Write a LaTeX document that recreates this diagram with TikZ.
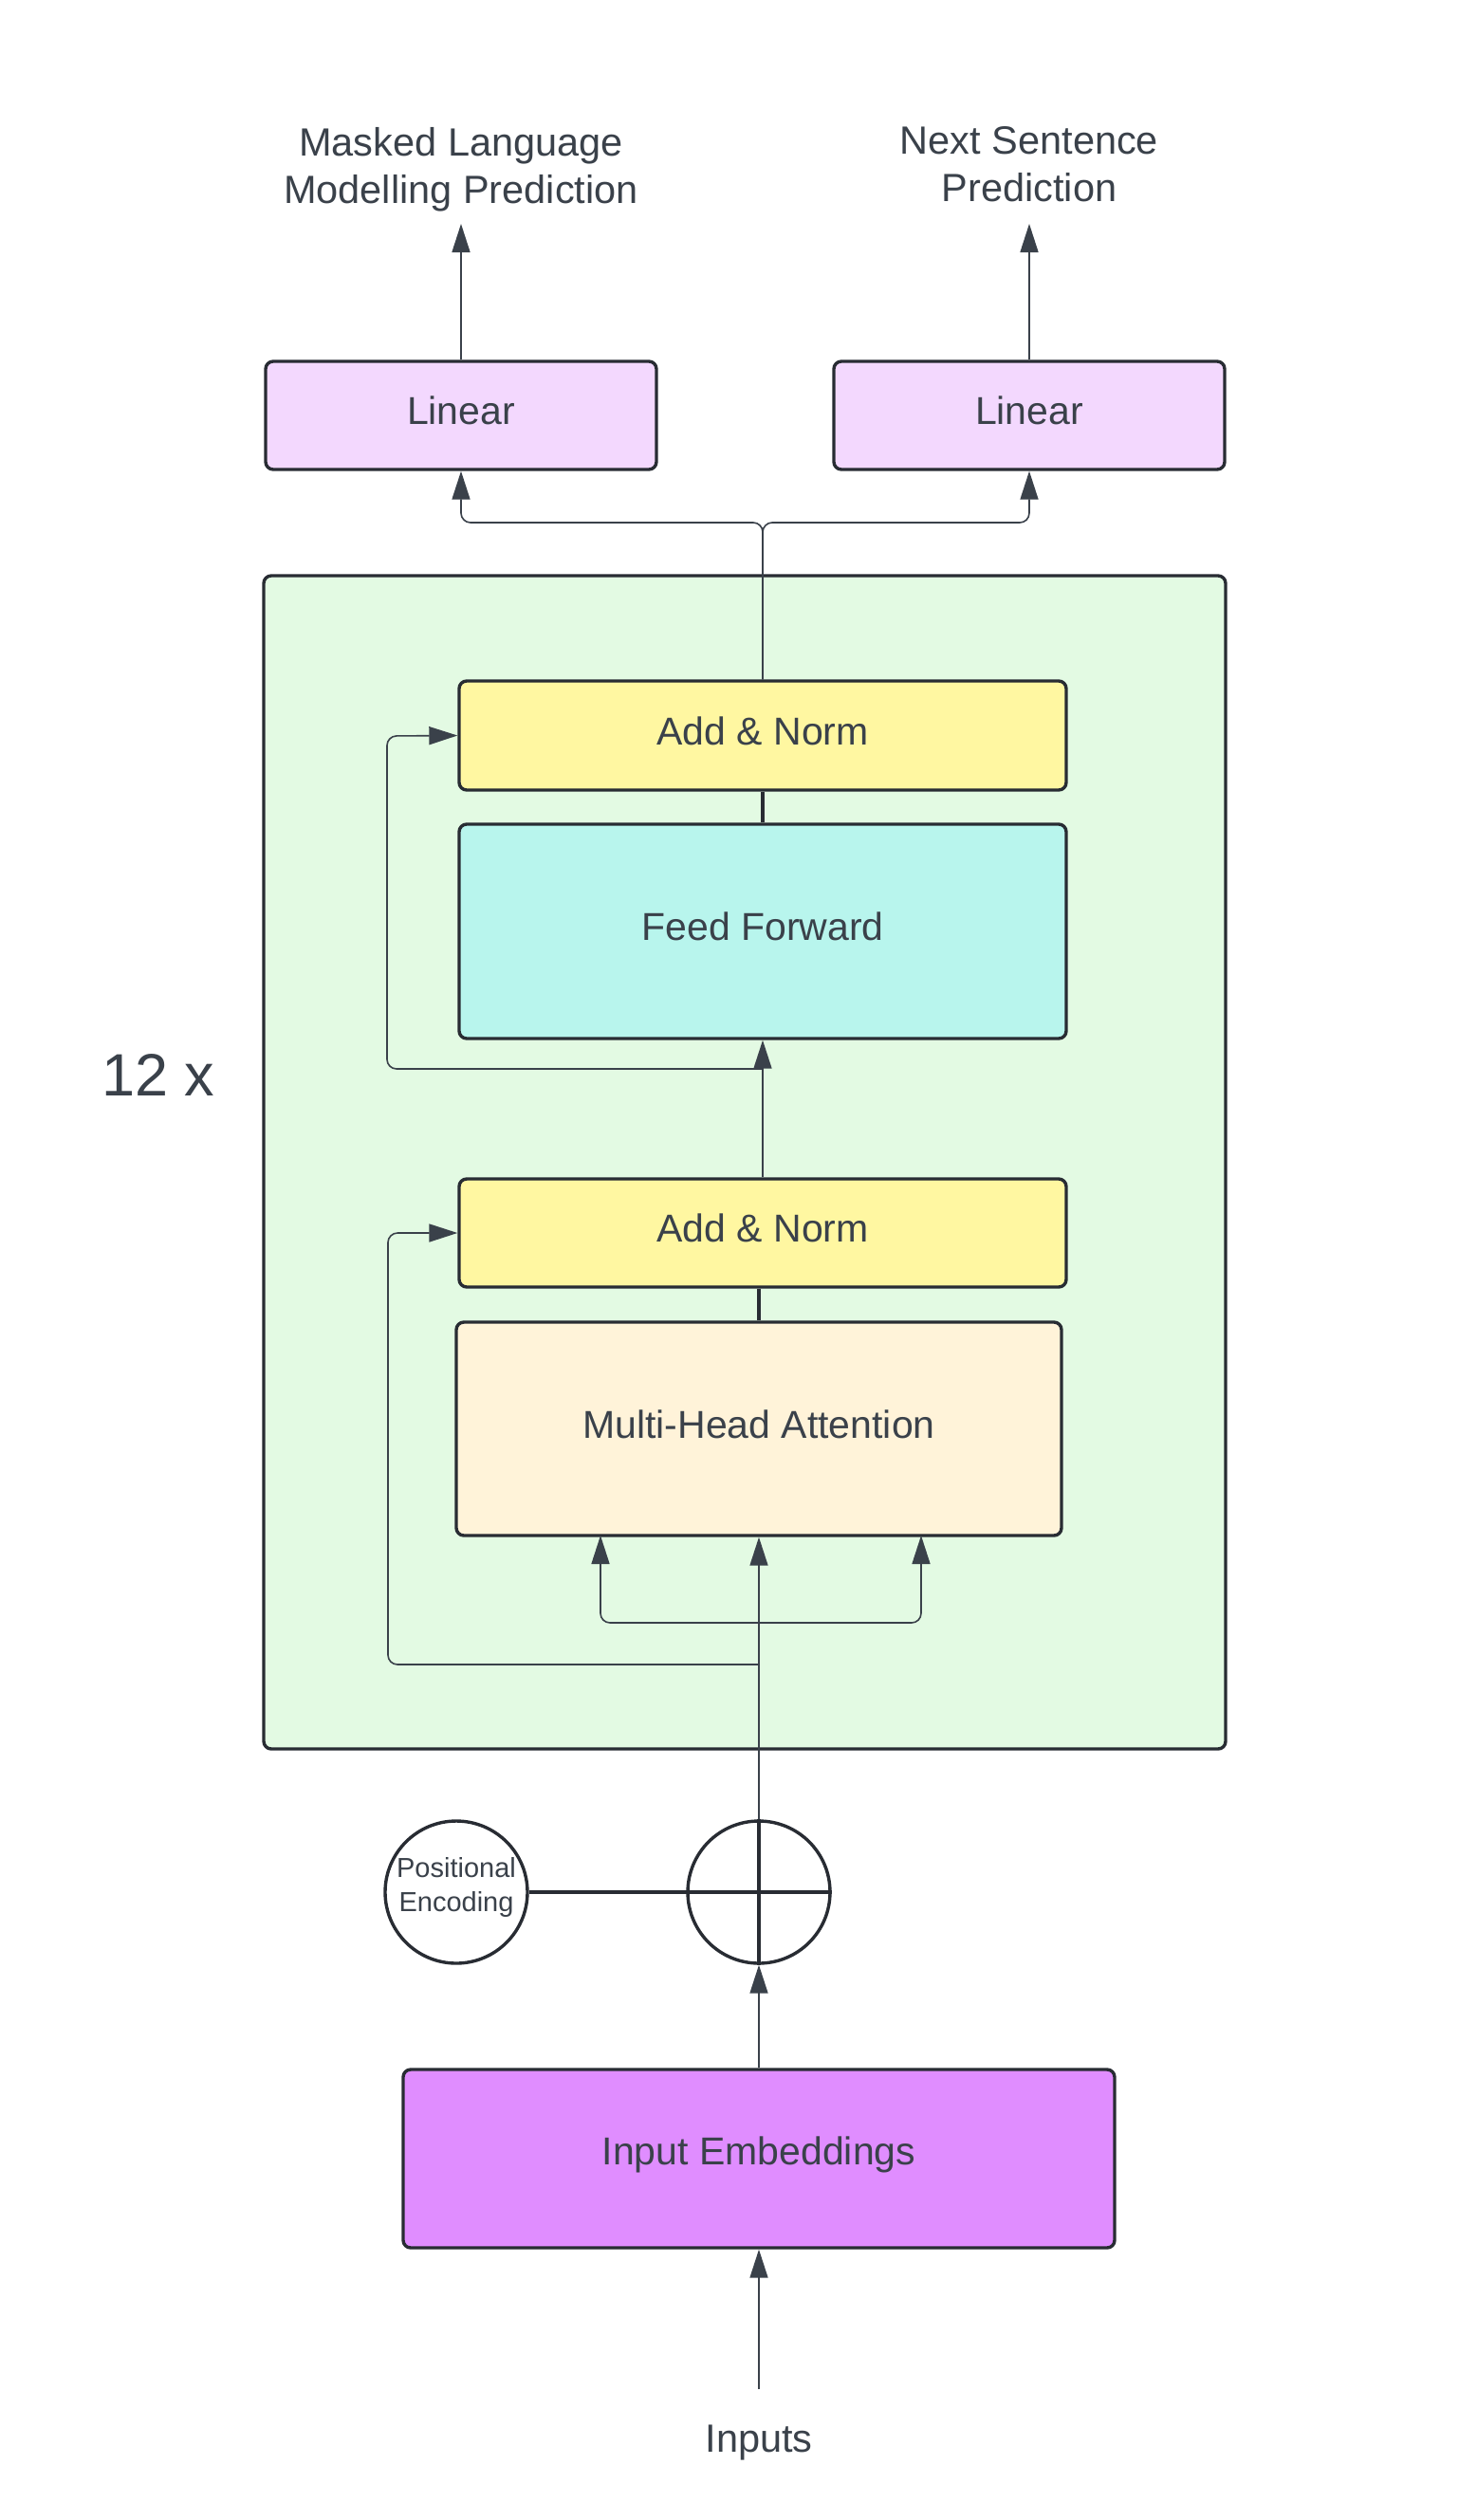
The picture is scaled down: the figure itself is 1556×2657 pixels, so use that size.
\documentclass[tikz,border=0pt]{standalone}
\usepackage{fontspec}
\setmainfont{Liberation Sans}
\usetikzlibrary{arrows.meta,calc}
\definecolor{txt}{HTML}{3A414A}
\definecolor{brd}{HTML}{282C33}
\definecolor{linfill}{RGB}{243,216,254}
\definecolor{greenfill}{RGB}{227,250,227}
\definecolor{yelfill}{RGB}{255,247,161}
\definecolor{cyanfill}{RGB}{184,245,237}
\definecolor{mhafill}{RGB}{255,243,217}
\definecolor{embfill}{RGB}{224,141,255}
\begin{document}
\begin{tikzpicture}[x=1pt,y=-1pt,
  box/.style={draw=brd, line width=3.4pt, rounded corners=8pt, text=txt,
    font=\fontsize{41}{50}\selectfont, text height=33pt, text depth=14pt, inner sep=0pt},
  ring/.style={draw=brd, line width=3.4pt, circle, minimum size=150pt, inner sep=0pt, text=txt},
  conn/.style={draw=txt, line width=1.6pt},
  arr/.style={conn, -{Triangle[length=30pt,width=19pt]}},
  thickline/.style={draw=brd, line width=3.4pt},
  lbl/.style={text=txt, font=\fontsize{41.5}{50}\selectfont, align=center, inner sep=0pt}]
\fill[white] (0,0) rectangle (1556,2657);
\useasboundingbox (0,0) rectangle (1556,2657);

% nodes
\node[box, fill=greenfill, minimum width=1014pt, minimum height=1237pt] (blk) at (785,1225.5) {};
\node[lbl, anchor=base, font=\fontsize{63}{72}\selectfont] (rep) at (167,1155) {12 x};

\node[box, fill=linfill, minimum width=412pt, minimum height=114pt] (lin1) at (486,438) {Linear};
\node[box, fill=linfill, minimum width=412pt, minimum height=114pt] (lin2) at (1085,438) {Linear};
\node[lbl] (mlm) at (486,180) {\strut Masked Language\\\strut Modelling Prediction};
\node[lbl] (nsp) at (1085,177) {\strut Next Sentence\\\strut Prediction};

\node[box, fill=yelfill, minimum width=640pt, minimum height=115pt] (an1) at (804,775.5) {Add \& Norm};
\node[box, fill=cyanfill, minimum width=640pt, minimum height=226pt] (ff) at (804,982) {Feed Forward};
\node[box, fill=yelfill, minimum width=640pt, minimum height=114pt] (an2) at (804,1300) {Add \& Norm};
\node[box, fill=mhafill, minimum width=638pt, minimum height=225pt] (mha) at (800,1506.5) {Multi-Head Attention};

\node[ring] (add) at (800,1995) {};
\node[ring, font=\fontsize{29}{36}\selectfont, align=center, text depth=16pt] (pe) at (481,1995) {Positional\\Encoding};

\node[box, fill=embfill, minimum width=750pt, minimum height=188pt, text depth=20pt] (emb) at (800,2276) {Input Embeddings};
\node[lbl, anchor=base] (inp) at (800,2585) {Inputs};

% coordinates
\coordinate (split) at (804,551);
\coordinate (o1) at (486,236);
\coordinate (o2) at (1085,236);
\coordinate (r1) at (804,1127);
\coordinate (r1c) at (408,776);
\coordinate (s1) at (800,1711);
\coordinate (qin) at (633,1619);
\coordinate (vin) at (971,1619);
\coordinate (r2) at (800,1755);
\coordinate (r2c) at (409,1300);
\coordinate (inb) at (800,2519);

% connectors
\draw[arr] (lin1.north) -- (o1);
\draw[arr] (lin2.north) -- (o2);
\draw[arr, rounded corners=10pt] (an1.north) -- (split) -| (lin1.south);
\draw[arr, rounded corners=10pt] (an1.north) -- (split) -| (lin2.south);
\draw[thickline] (an1.south) -- (ff.north);
\draw[arr] (an2.north) -- (ff.south);
\draw[arr, rounded corners=10pt] (r1) -| (r1c) -- (an1.west);
\draw[thickline] (an2.south -| mha.north) -- (mha.north);
\draw[arr] (add.north) -- (mha.south);
\draw[arr, rounded corners=10pt] (s1) -| (qin);
\draw[arr, rounded corners=10pt] (s1) -| (vin);
\draw[arr, rounded corners=10pt] (r2) -| (r2c) -- (an2.west);
\draw[thickline] (pe.east) -- (add.west);
\draw[thickline] (add.north) -- (add.south);
\draw[thickline] (add.west) -- (add.east);
\draw[arr] (emb.north) -- (add.south);
\draw[arr] (inb) -- (emb.south);
\end{tikzpicture}
\end{document}
